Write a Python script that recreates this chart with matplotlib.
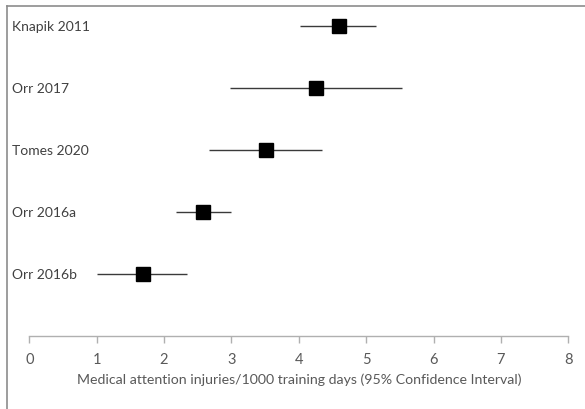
import matplotlib.pyplot as plt
from matplotlib.lines import Line2D

# study data
studies = ["Knapik 2011", "Orr 2017", "Tomes 2020", "Orr 2016a", "Orr 2016b"]
rates = [4.60, 4.25, 3.51, 2.58, 1.69]
ci_low = [4.02, 2.98, 2.67, 2.18, 1.00]
ci_high = [5.15, 5.53, 4.34, 2.99, 2.34]
rows = [5, 4, 3, 2, 1]
xticks = [0, 1, 2, 3, 4, 5, 6, 7, 8]

plt.rcParams['font.family'] = ['Lato', 'DejaVu Sans']

W, H = 585, 410
fig = plt.figure(figsize=(W / 100, H / 100), dpi=100)
ax = fig.add_axes([29.3 / W, 1 - 337.3 / H, (568.3 - 29.3) / W, 337.3 / H])

xerr = [[r - lo for r, lo in zip(rates, ci_low)],
        [hi - r for r, hi in zip(rates, ci_high)]]
ax.errorbar(rates, rows, xerr=xerr, fmt='s', color='black', ecolor='#3a3a3a',
            elinewidth=1.0, capsize=0, markersize=10.3, zorder=3)

ax.set_xlim(0, 8)
ax.set_ylim(0, 5.43)
ax.set_xticks(xticks)
ax.set_xticklabels([str(t) for t in xticks])
ax.set_yticks([])
for s in ['top', 'right', 'left']:
    ax.spines[s].set_visible(False)
ax.spines['bottom'].set_color('#b0b0b0')
ax.spines['bottom'].set_linewidth(1.0)
ax.tick_params(axis='x', colors='#b0b0b0', length=5, width=1.0, labelsize=10.5,
               labelcolor='#595959', pad=6)
ax.set_xlabel("Medical attention injuries/1000 training days (95% Confidence Interval)",
              fontsize=10.2, color='#595959', labelpad=5)

# category labels on the left
for name, r in zip(studies, rows):
    ax.annotate(name, xy=(0, r), xycoords=('figure fraction', 'data'),
                xytext=(12.5, 0), textcoords='offset pixels',
                ha='left', va='center', fontsize=10, color='#404040')

# partial chart frame (left and top edges)
fig.add_artist(Line2D([7 / W, 7 / W], [0, 1 - 7 / H], transform=fig.transFigure,
                      color='#8c8c8c', lw=1.2))
fig.add_artist(Line2D([7 / W, 1], [1 - 7 / H, 1 - 7 / H], transform=fig.transFigure,
                      color='#8c8c8c', lw=1.2))

fig.savefig("out.png", dpi=100)
